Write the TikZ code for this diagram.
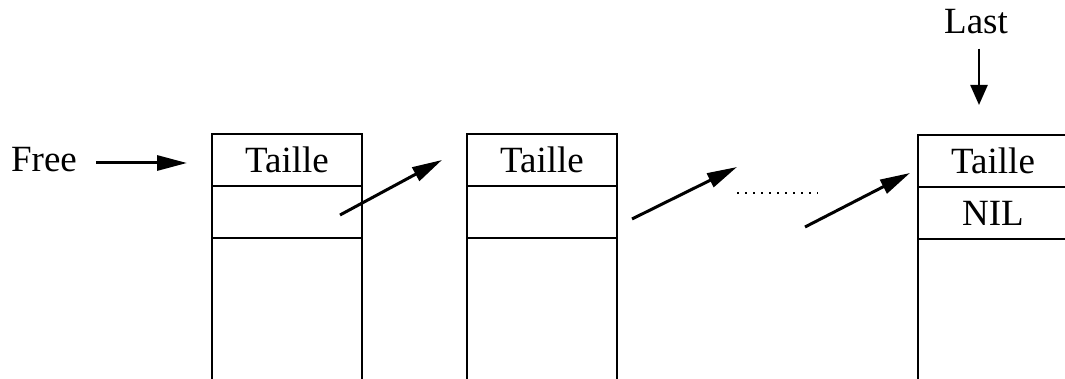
\documentclass[tikz,border=0pt]{standalone}
\usepackage{fontspec}
\setmainfont{Liberation Serif}
\usetikzlibrary{arrows.meta, positioning}

\begin{document}
\begin{tikzpicture}[x=0.5pt, y=-0.5pt,
    every node/.style={font=\fontsize{18.5}{22}\selectfont},
    cell/.style={draw, line width=1pt, minimum width=75pt, minimum height=26pt, inner sep=0pt, outer sep=0pt, anchor=north west},
    ptr/.style={line width=1.5pt, -{Triangle[length=15pt, width=7.5pt]}}]
  \useasboundingbox (0,0) rectangle (1065,379);

  % Blocks:
  \node[cell] (t1) at (212,134) {Taille};
  \node[cell, below=0pt of t1] (p1) {};
  \node[cell, below=0pt of p1, minimum height=75pt] (d1) {};

  \node[cell] (t2) at (467,134) {Taille};
  \node[cell, below=0pt of t2] (p2) {};
  \node[cell, below=0pt of p2, minimum height=75pt] (d2) {};

  \node[cell] (t3) at (918,135) {Taille};
  \node[cell, below=0pt of t3] (p3) {NIL};
  \node[cell, below=0pt of p3, minimum height=75pt] (d3) {};

  % Labels:
  \node[inner sep=0pt] (free) at (44,160) {Free};
  \node[inner sep=0pt] (last) at (976,22) {Last};

  % Pointers:
  \draw[ptr, shorten <=9.5pt, shorten >=12.5pt] ([yshift=-1.5pt]free.east) -- ([yshift=-1.5pt]t1.west);
  \coordinate (lt) at ([xshift=1.5pt]last.south);
  \draw[line width=1.2pt, -{Triangle[length=10pt, width=8.5pt]}, shorten <=7pt, shorten >=15pt]
    (lt) -- (t3.north -| lt);

  \coordinate (s1) at (340,215);
  \coordinate (e1) at (442,160);
  \draw[ptr] (s1) -- (e1);

  \coordinate (s2) at (632,219);
  \coordinate (e2) at (737,167);
  \draw[ptr] (s2) -- (e2);

  \coordinate (s3) at (805,227);
  \coordinate (e3) at (910,173);
  \draw[ptr] (s3) -- (e3);

  % Dots:
  \coordinate (g1) at (737,193);
  \coordinate (g2) at (818,193);
  \draw[line width=1.4pt, dash pattern=on 1.2pt off 2.8pt] (g1) -- (g2);
\end{tikzpicture}
\end{document}
